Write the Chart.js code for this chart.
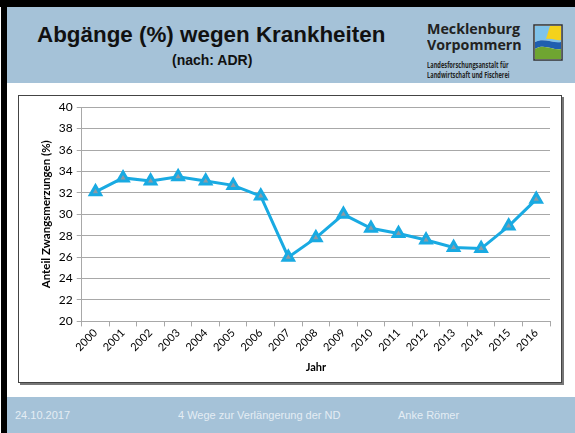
<!DOCTYPE html>
<html>
<head>
<meta charset="utf-8">
<script src="https://cdn.jsdelivr.net/npm/chart.js@4"></script>
<style>
  html, body { margin: 0; padding: 0; }
  body { width: 575px; height: 433px; position: relative; overflow: hidden; background: #fff; font-family: "Liberation Sans", Arial, sans-serif; }
  .blackTop { position: absolute; left: 0; top: 0; width: 575px; height: 7px; background: #000; }
  .blackLeft { position: absolute; left: 1px; top: 0; width: 6px; height: 433px; background: #000; }
  .header { position: absolute; left: 7px; top: 7px; width: 568px; height: 76px; background: #a5c2d8; }
  .title { position: absolute; left: 30px; top: 15px; font-size: 22.4px; font-weight: bold; color: #111; }
  .subtitle { position: absolute; left: 165px; top: 45px; font-size: 14px; font-weight: bold; color: #111; }
  .logo1 { position: absolute; left: 420px; top: 13px; font-family: "Open Sans", sans-serif; font-weight: bold; font-size: 15px; line-height: 16px; color: #222; transform: scaleX(0.95); transform-origin: left top; }
  .logo2 { position: absolute; left: 420px; top: 53px; font-family: "Open Sans", sans-serif; font-weight: bold; font-size: 8px; line-height: 10px; color: #222; transform: scaleX(0.71); transform-origin: left top; white-space: nowrap; }
  .logoIcon { position: absolute; left: 526px; top: 17px; }
  .box { position: absolute; left: 18px; top: 95px; width: 542px; height: 286px; border: 1px solid #444; box-shadow: 2px 2px 0 #777; background: #fff; }
  #myChart { position: absolute; left: 19px; top: 96px; }
  .footer { position: absolute; left: 7px; top: 397px; width: 568px; height: 36px; background: #a5c2d8; color: #e4edf4; font-size: 11px; }
  .footer span { position: absolute; top: 12px; }
</style>
</head>
<body>
<div class="blackTop"></div>
<div class="blackLeft"></div>
<div class="header">
  <div class="title">Abgänge (%) wegen Krankheiten</div>
  <div class="subtitle">(nach: ADR)</div>
  <div class="logo1">Mecklenburg<br>Vorpommern</div>
  <div class="logo2">Landesforschungsanstalt für<br>Landwirtschaft und Fischerei</div>
  <svg class="logoIcon" width="30" height="37" viewBox="0 0 30 37">
    <rect x="1" y="1" width="28" height="35" fill="#fff" stroke="#333" stroke-width="1.5"/>
    <path d="M2 2 H28 V18 C21 20 11 13 2 18 Z" fill="#7fc3ea"/>
    <path d="M17 2 H28 V16 C24 17 20 14 13 15 Z" fill="#f4d21c"/>
    <path d="M2 18 C11 13 21 20 28 18 V25 C21 27 11 19 2 25 Z" fill="#1f5fb0"/>
    <path d="M2 25 C11 19 21 27 28 25 V35 H2 Z" fill="#6fa531"/>
  </svg>
</div>
<div class="box"></div>
<canvas id="myChart" width="542" height="286"></canvas>
<div class="footer">
  <span style="left: 8px;">24.10.2017</span>
  <span style="left: 171px;">4 Wege zur Verlängerung der ND</span>
  <span style="left: 391px;">Anke Römer</span>
</div>
<script>
const years = ['2000', '2001', '2002', '2003', '2004', '2005', '2006', '2007', '2008',
    '2009', '2010', '2011', '2012', '2013', '2014', '2015', '2016'];
const abgaenge = [32.1, 33.4, 33.1, 33.5, 33.1, 32.7, 31.7, 26.0, 27.8,
    30.0, 28.7, 28.2, 27.6, 26.9, 26.8, 28.9, 31.4];
const yMin = 20;
const yMax = 40;
const yStep = 2;

const lineBlue = '#19aae2';
const gridGray = '#a8a8a8';

myChart = new Chart('myChart', {
    type: 'line',
    data: {
        labels: years,
        datasets: [{
            label: 'Anteil',
            data: abgaenge,
            borderColor: lineBlue,
            borderWidth: 3,
            pointStyle: 'triangle',
            pointRadius: 6,
            pointBorderWidth: 3,
            pointBorderColor: lineBlue,
            pointBackgroundColor: '#8e9aa4',
            tension: 0
        }]
    },
    options: {
        responsive: false,
        animation: false,
        layout: { padding: { left: 16, right: 11, top: 5, bottom: 4 } },
        plugins: {
            legend: { display: false },
            tooltip: { enabled: false }
        },
        scales: {
            x: {
                offset: true,
                grid: { drawOnChartArea: false, color: gridGray, tickLength: 5, offset: true },
                border: { color: gridGray },
                ticks: {
                    minRotation: 45, maxRotation: 45,
                    color: '#000',
                    font: { family: 'Lato', size: 11 },
                    padding: 0
                },
                title: {
                    display: true, text: 'Jahr', color: '#000',
                    font: { family: 'Lato', size: 11, weight: 'bold' },
                    padding: { top: 7 }
                }
            },
            y: {
                min: yMin, max: yMax,
                grid: { color: gridGray, tickLength: 5 },
                border: { color: gridGray },
                ticks: {
                    stepSize: yStep,
                    color: '#000',
                    font: { family: 'Lato', size: 12 },
                    padding: 4
                },
                title: {
                    display: true, text: 'Anteil Zwangsmerzungen (%)', color: '#000',
                    font: { family: 'Lato', size: 11.5, weight: 'bold' },
                    padding: { bottom: 2 }
                }
            }
        }
    }
});
</script>
</body>
</html>
